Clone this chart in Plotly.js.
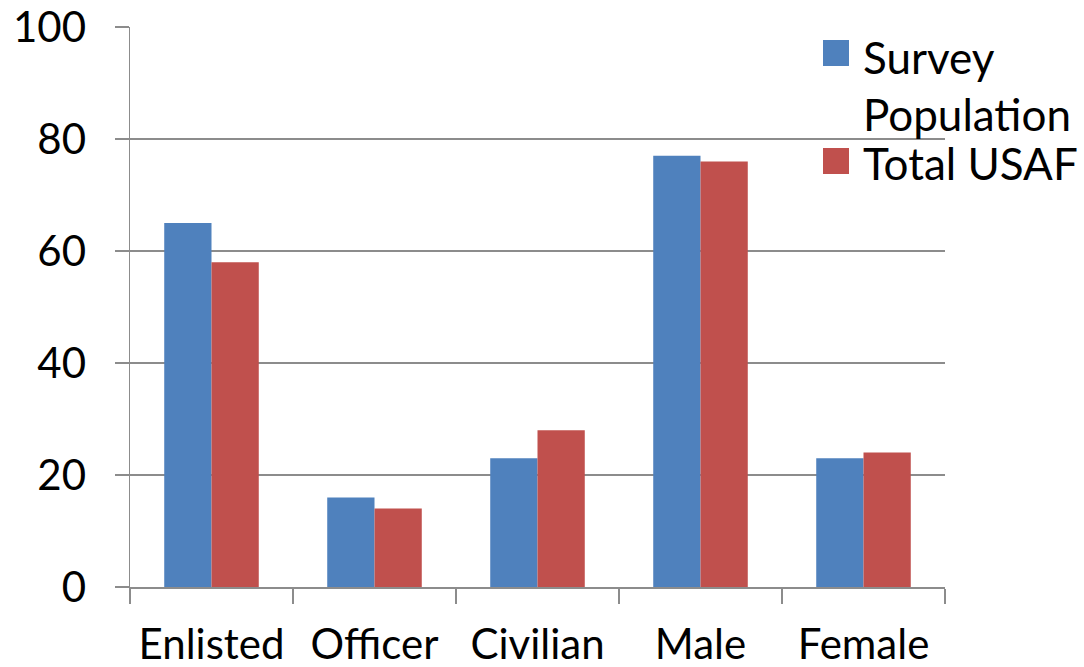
<!DOCTYPE html>
<html>
<head>
<meta charset="utf-8">
<script src="https://cdn.plot.ly/plotly-3.0.1.min.js"></script>
<style>html,body{margin:0;padding:0;background:#fff;}#chart{width:1084px;height:667px;}</style>
</head>
<body>
<div id="chart"></div>
<script>
const categories = ["Enlisted", "Officer", "Civilian", "Male", "Female"];
const surveyPopulation = [65, 16, 23, 77, 23];
const totalUSAF = [58, 14, 28, 76, 24];
const seriesNames = ["Survey<br>Population", "Total USAF"];
const seriesColors = ["#4F81BD", "#C0504D"];
const yTicks = [0, 20, 40, 60, 80, 100];

const FONT = "Lato, 'Open Sans', sans-serif";
const GRID = "#8c8c8c";

const data = [
  {type: "bar", name: seriesNames[0], x: categories, y: surveyPopulation,
   marker: {color: seriesColors[0]}},
  {type: "bar", name: seriesNames[1], x: categories, y: totalUSAF,
   marker: {color: seriesColors[1]}}
];

// Legend drawn as paper-referenced swatches + labels (larger swatches than Plotly's built-in legend)
const legendSwatches = [
  {y0: 0.9304, y1: 0.9768},
  {y0: 0.7375, y1: 0.7839}
];
const legendLabelY = [0.896, 0.757];

const shapes = legendSwatches.map((s, i) => ({
  type: "rect", xref: "paper", yref: "paper",
  x0: 0.8503, x1: 0.8822, y0: s.y0, y1: s.y1,
  fillcolor: seriesColors[i], line: {width: 0}
}));
const annotations = seriesNames.map((n, i) => ({
  xref: "paper", yref: "paper", x: 0.897, y: legendLabelY[i],
  xanchor: "left", yanchor: "middle", align: "left", showarrow: false,
  text: n, font: {family: FONT, size: 44, color: "#000"}
}));

const layout = {
  width: 1084, height: 667,
  margin: {l: 130, r: 139, t: 27, b: 80},
  paper_bgcolor: "#fff", plot_bgcolor: "#fff",
  font: {family: FONT, color: "#000", size: 42},
  barmode: "group",
  bargap: 0.42, bargroupgap: 0,
  showlegend: false,
  shapes: shapes,
  annotations: annotations,
  xaxis: {type: "category", showline: true, linecolor: GRID, linewidth: 1.5,
          ticks: "outside", tickson: "boundaries", ticklen: 15, tickcolor: GRID, tickwidth: 1.5,
          showgrid: false, zeroline: false, tickfont: {size: 42, family: FONT},
          ticklabelstandoff: 20},
  yaxis: {range: [0, 100], tickvals: yTicks, ticktext: yTicks.map(String),
          showline: true, linecolor: GRID, linewidth: 1.5,
          ticks: "outside", ticklen: 14, tickcolor: GRID, tickwidth: 1.5,
          showgrid: true, gridcolor: GRID, gridwidth: 1.5, zeroline: false,
          tickfont: {size: 42, family: FONT}, ticklabelstandoff: 20}
};

Plotly.newPlot("chart", data, layout, {displayModeBar: false, staticPlot: true});
</script>
</body>
</html>
